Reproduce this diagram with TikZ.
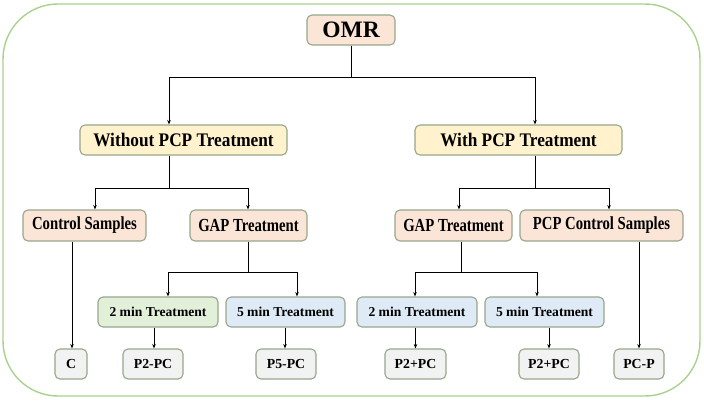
\documentclass[tikz,border=0pt]{standalone}
\usepackage{fontspec}
\usepackage{graphicx}
\setmainfont{Liberation Serif}
\usetikzlibrary{arrows.meta}

\definecolor{frameline}{HTML}{A9D18E}
\definecolor{boxline}{HTML}{97A68B}
\definecolor{peach}{HTML}{FBE5D6}
\definecolor{cream}{HTML}{FFF2CC}
\definecolor{mint}{HTML}{E2F0D9}
\definecolor{sky}{HTML}{DEEBF7}
\definecolor{pale}{HTML}{F2F2F2}

% narrower letters for the upper labels
\newcommand{\narrowtext}[2]{\scalebox{#1}[1]{#2}}

\begin{document}
\begin{tikzpicture}[x=1pt, y=-1pt, >={Stealth[length=4.5pt,width=3.5pt]}, line width=0.8pt,
    box/.style={draw=boxline, line width=1.1pt, rounded corners=5pt, inner sep=0pt, align=center},
    topbox/.style={box, fill=peach, minimum height=30pt, font=\fontsize{23.5}{24}\selectfont\bfseries},
    groupbox/.style={box, fill=cream, minimum width=207pt, minimum height=30pt, font=\fontsize{19.2}{20}\selectfont\bfseries},
    kindbox/.style={box, fill=peach, minimum height=31pt, font=\fontsize{18.4}{19}\selectfont\bfseries},
    timebox/.style={box, fill=sky, minimum width=120pt, minimum height=30pt, font=\fontsize{13.6}{15}\selectfont\bfseries},
    samplebox/.style={box, fill=pale, minimum height=30pt, font=\fontsize{13.8}{15}\selectfont\bfseries}]
    % frame
    \useasboundingbox (0,0) rectangle (704,400);
    \draw[frameline, line width=1.4pt, rounded corners=55pt] (3,4) rectangle (700,396);

    % root
    \node[topbox, minimum width=88pt] (omr) at (351,30) {OMR};

    % PCP groups
    \node[groupbox] (without) at (183.5,140) {\narrowtext{0.9}{Without PCP Treatment}};
    \node[groupbox] (with)    at (518.5,140) {\narrowtext{0.9}{With PCP Treatment}};

    % second level
    \node[kindbox, minimum width=123pt] (ctrl)  at (84.5,225.5)  {\narrowtext{0.8}{Control Samples}};
    \node[kindbox, minimum width=117pt] (gapL)  at (248.5,225.5) {\narrowtext{0.8}{GAP Treatment}};
    \node[kindbox, minimum width=117pt] (gapR)  at (453.5,225.5) {\narrowtext{0.8}{GAP Treatment}};
    \node[kindbox, minimum width=163pt] (pcpctrl) at (601.5,225.5) {\narrowtext{0.8}{PCP Control Samples}};

    % treatment times
    \node[timebox, fill=mint] (twoL)  at (158,312)   {2 min Treatment};
    \node[timebox, minimum width=119pt] (fiveL) at (285.5,312) {5 min Treatment};
    \node[timebox] (twoR)  at (417,312)   {2 min Treatment};
    \node[timebox, minimum width=119pt] (fiveR) at (544.5,312) {5 min Treatment};

    % samples
    \node[samplebox, minimum width=32pt] (c)    at (71,364)    {C};
    \node[samplebox, minimum width=60pt] (p2pc) at (153,364)   {P2-PC};
    \node[samplebox, minimum width=60pt] (p5pc) at (286,364)   {P5-PC};
    \node[samplebox, minimum width=61pt] (p2a)  at (415.5,364) {P2+PC};
    \node[samplebox, minimum width=60pt] (p2b)  at (549,364)   {P2+PC};
    \node[samplebox, minimum width=50pt] (pcp)  at (639,364)   {PC-P};

    % connectors
    \draw[->] (omr.south) -- ++(0,32) -| ([xshift=-14.5pt]without.north);
    \draw[->] (omr.south) -- ++(0,32) -| ([xshift=16.5pt]with.north);

    \draw[->] ([xshift=-14.5pt]without.south) -- ++(0,33) -| ([xshift=10.5pt]ctrl.north);
    \draw[->] ([xshift=-14.5pt]without.south) -- ++(0,33) -| ([xshift=-0.5pt]gapL.north);
    \draw[->] ([xshift=16.5pt]with.south) -- ++(0,33) -| ([xshift=5.5pt]gapR.north);
    \draw[->] ([xshift=16.5pt]with.south) -- ++(0,33) -| ([xshift=7.5pt]pcpctrl.north);

    \draw[->] ([xshift=-0.5pt]gapL.south) -- ++(0,31) -| ([xshift=10pt]twoL.north);
    \draw[->] ([xshift=-0.5pt]gapL.south) -- ++(0,31) -| ([xshift=11.5pt]fiveL.north);
    \draw[->] ([xshift=7.5pt]gapR.south) -- ++(0,31) -| ([xshift=-2pt]twoR.north);
    \draw[->] ([xshift=7.5pt]gapR.south) -- ++(0,31) -| ([xshift=-7.5pt]fiveR.north);

    \draw[->] ([xshift=1pt]c.north |- ctrl.south) -- ([xshift=1pt]c.north);
    \draw[->] ([xshift=1pt]p2pc.north |- twoL.south) -- ([xshift=1pt]p2pc.north);
    \draw[->] ([xshift=-1pt]p5pc.north |- fiveL.south) -- ([xshift=-1pt]p5pc.north);
    \draw[->] (p2a.north |- twoR.south) -- (p2a.north);
    \draw[->] (p2b.north |- fiveR.south) -- (p2b.north);
    \draw[->] (pcp.north |- pcpctrl.south) -- (pcp.north);
\end{tikzpicture}
\end{document}
